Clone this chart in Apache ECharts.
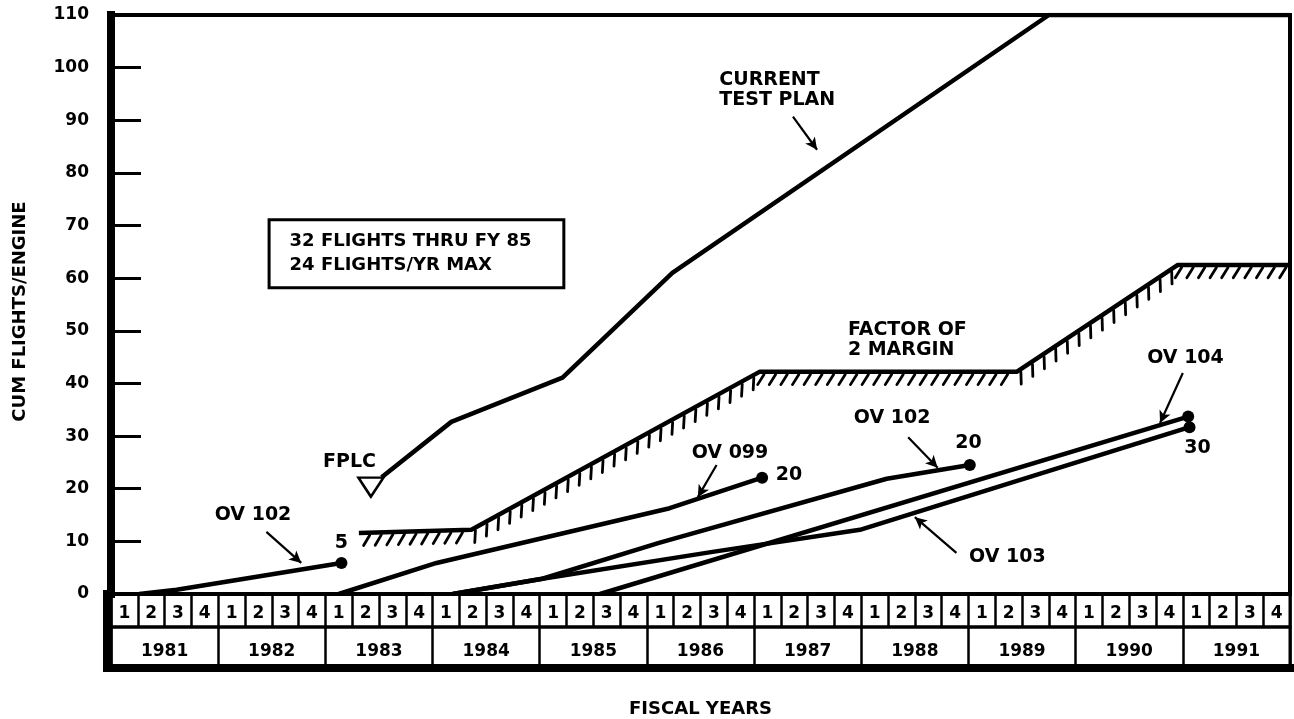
<!DOCTYPE html>
<html>
<head>
<meta charset="utf-8">
<title>Cum flights per engine</title>
<script src="https://cdn.jsdelivr.net/npm/echarts@6/dist/echarts.min.js"></script>
<style>
  html, body { margin: 0; padding: 0; background: #fff; }
  #chart { width: 1294px; height: 719px; }
</style>
</head>
<body>
<div id="chart"></div>
<script>
// x is measured in fiscal quarters from the start of FY 1981 (0 .. 44)
const years = ['1981', '1982', '1983', '1984', '1985', '1986', '1987', '1988', '1989', '1990', '1991']
const quarters = ['1', '2', '3', '4']
const yTicks = [0, 10, 20, 30, 40, 50, 60, 70, 80, 90, 100, 110]

const testPlan = [[10.1, 22.2], [12.7, 32.7], [16.85, 41.1], [20.95, 61.0], [35.0, 110], [44, 110]]
const margin2x = [[9.25, 11.6], [13.45, 12.2], [24.2, 42.2], [33.8, 42.2], [39.8, 62.5], [44, 62.5]]
const ov102a = [[1.05, 0], [2.45, 0.8], [8.6, 5.9]]
const ov099 = [[8.5, 0], [12.15, 5.9], [20.85, 16.3], [24.3, 22.1]]
const ov102b = [[12.75, 0], [16.1, 2.9], [20.45, 9.7], [28.95, 21.9], [32.05, 24.5]]
const ov103 = [[12.75, 0], [16.1, 2.9], [22.45, 8.0], [27.95, 12.2], [40.25, 31.7]]
const ov104 = [[18.25, 0], [40.2, 33.7]]
const fplc = [9.7, 20.3]

// annotation text: [x, y, text, align]
const notes = [
  [22.7, 95.8, 'CURRENT\nTEST PLAN', 'left'],
  [8.9, 25.1, 'FPLC', 'center'],
  [5.3, 15.0, 'OV 102', 'center'],
  [8.6, 9.7, '5', 'center'],
  [23.1, 26.8, 'OV 099', 'center'],
  [25.3, 22.6, '20', 'center'],
  [27.5, 48.3, 'FACTOR OF\n2 MARGIN', 'left'],
  [29.15, 33.5, 'OV 102', 'center'],
  [32.0, 28.7, '20', 'center'],
  [40.1, 44.9, 'OV 104', 'center'],
  [40.55, 27.8, '30', 'center'],
  [33.45, 7.0, 'OV 103', 'center']
]
// leader arrows: [x1, y1, x2, y2]
const arrows = [
  [25.45, 90.7, 26.35, 84.4],
  [5.8, 11.8, 7.1, 5.9],
  [22.6, 24.5, 21.9, 18.4],
  [29.75, 29.8, 30.85, 24.0],
  [40.0, 42.0, 39.15, 32.5],
  [31.55, 7.8, 30.0, 14.6]
]
const noteBox = [[5.9, 71.1], [16.9, 58.2]]
const noteBoxText = '32 FLIGHTS THRU FY 85\n24 FLIGHTS/YR MAX'

const quarterLabels = []
years.forEach(() => quarters.forEach(q => quarterLabels.push(q)))

const FONT = 'DejaVu Sans'
const INK = '#000'
const lineStyle = { color: INK, width: 4.5 }

function lineSeries(name, data) {
  return {
    name, type: 'line', xAxisIndex: 0, yAxisIndex: 0,
    data, symbol: 'none', lineStyle, z: 3
  }
}

// segments of the margin line, for the hatch marks
const marginSegs = []
for (let i = 0; i < margin2x.length - 1; i++) {
  marginSegs.push([margin2x[i][0], margin2x[i][1], margin2x[i + 1][0], margin2x[i + 1][1]])
}

function renderHatch(params, api) {
  const p0 = api.coord([api.value(0), api.value(1)])
  const p1 = api.coord([api.value(2), api.value(3)])
  const step = 11.6
  const dx = p1[0] - p0[0]
  const dy = p1[1] - p0[1]
  const len = Math.sqrt(dx * dx + dy * dy)
  const ux = dx / len, uy = dy / len
  // normal pointing down, turned ~32 deg backwards
  const nx = -uy, ny = ux
  const hx = 0.85 * nx - 0.53 * ux
  const hy = 0.85 * ny - 0.53 * uy
  const children = []
  let x = Math.ceil((p0[0] + 3) / step) * step
  for (; x < p1[0] - 1; x += step) {
    const y = p0[1] + dy * (x - p0[0]) / dx
    children.push({
      type: 'line',
      shape: { x1: x + hx * 3, y1: y + hy * 3, x2: x + hx * 15, y2: y + hy * 15 },
      style: { stroke: INK, lineWidth: 2.8, lineCap: 'round' }
    })
  }
  return { type: 'group', children }
}

const ends = [ov102a, ov099, ov102b, ov103, ov104].map(s => s[s.length - 1])

const chart = echarts.init(document.getElementById('chart'), null, { renderer: 'canvas' })

const noteFont = { fontSize: 19, lineHeight: 20, fontFamily: FONT, fontWeight: 'bold', color: INK }

chart.setOption({
  animation: false,
  backgroundColor: '#fff',
  textStyle: { fontFamily: FONT, fontWeight: 'bold', color: INK },
  grid: [
    { left: 111, right: 4, top: 15, height: 579, show: true, borderColor: INK, borderWidth: 4, backgroundColor: 'transparent' },
    { left: 111, right: 4, top: 594, height: 33, show: true, borderColor: INK, borderWidth: 3 },
    { left: 111, right: 4, top: 627, height: 42, show: true, borderColor: INK, borderWidth: 3 }
  ],
  xAxis: [
    { gridIndex: 0, type: 'value', min: 0, max: 44, show: false },
    {
      gridIndex: 1, type: 'category', data: quarterLabels, boundaryGap: true,
      axisLine: { show: false }, axisTick: { show: false },
      splitLine: { show: true, lineStyle: { color: INK, width: 2.5 } },
      axisLabel: { inside: true, interval: 0, margin: 13, verticalAlign: 'middle', fontSize: 17, fontFamily: FONT, fontWeight: 'bold', color: INK }
    },
    {
      gridIndex: 2, type: 'category', data: years, boundaryGap: true,
      axisLine: { show: true, lineStyle: { color: INK, width: 8, cap: 'square' } },
      axisTick: { show: false },
      splitLine: { show: true, lineStyle: { color: INK, width: 2.5 } },
      axisLabel: { inside: true, interval: 0, margin: 16, verticalAlign: 'middle', fontSize: 17, fontFamily: FONT, fontWeight: 'bold', color: INK },
      name: 'FISCAL YEARS', nameLocation: 'middle', nameGap: 32,
      nameTextStyle: { fontSize: 18, fontFamily: FONT, fontWeight: 'bold', color: INK }
    }
  ],
  yAxis: [
    {
      gridIndex: 0, type: 'value', min: 0, max: 110, interval: 10, offset: 4,
      axisLine: { show: true, lineStyle: { color: INK, width: 8, cap: 'square' } },
      axisTick: { show: true, inside: true, length: 30, lineStyle: { color: INK, width: 3 } },
      splitLine: { show: false },
      axisLabel: { margin: 18, fontSize: 17, fontFamily: FONT, fontWeight: 'bold', color: INK,
        formatter: v => yTicks.includes(v) ? String(v) : '' },
      name: 'CUM FLIGHTS/ENGINE', nameLocation: 'middle', nameGap: 78, nameRotate: 90,
      nameTextStyle: { fontSize: 18, fontFamily: FONT, fontWeight: 'bold', color: INK, padding: [0, 14, 0, 0] }
    },
    {
      gridIndex: 1, type: 'value', offset: 4,
      axisLine: { show: true, lineStyle: { color: INK, width: 8, cap: 'square' } },
      axisTick: { show: false }, axisLabel: { show: false }, splitLine: { show: false }
    },
    {
      gridIndex: 2, type: 'value', offset: 4,
      axisLine: { show: true, lineStyle: { color: INK, width: 8, cap: 'square' } },
      axisTick: { show: false }, axisLabel: { show: false }, splitLine: { show: false }
    }
  ],
  series: [
    lineSeries('CURRENT TEST PLAN', testPlan),
    lineSeries('FACTOR OF 2 MARGIN', margin2x),
    {
      name: 'margin hatch', type: 'custom', xAxisIndex: 0, yAxisIndex: 0,
      data: marginSegs, renderItem: renderHatch, clip: true, z: 2
    },
    lineSeries('OV 102 (early)', ov102a),
    lineSeries('OV 099', ov099),
    lineSeries('OV 102', ov102b),
    lineSeries('OV 103', ov103),
    lineSeries('OV 104', ov104),
    {
      name: 'ends', type: 'scatter', xAxisIndex: 0, yAxisIndex: 0,
      data: ends, symbol: 'circle', symbolSize: 12, itemStyle: { color: INK, opacity: 1 }, z: 4
    },
    {
      name: 'FPLC', type: 'scatter', xAxisIndex: 0, yAxisIndex: 0,
      data: [fplc], symbol: 'triangle', symbolRotate: 180, symbolSize: [25, 19],
      itemStyle: { color: '#fff', borderColor: INK, borderWidth: 2.5, opacity: 1 }, z: 4
    },
    {
      name: 'notes', type: 'scatter', xAxisIndex: 0, yAxisIndex: 0,
      symbolSize: 1, itemStyle: { color: 'rgba(0,0,0,0)', opacity: 1 }, z: 5, silent: true,
      data: notes.map(n => ({
        value: [n[0], n[1]],
        label: Object.assign({
          show: true, position: 'inside', formatter: n[2], align: n[3], verticalAlign: 'middle',
          textBorderWidth: 0
        }, noteFont)
      })),
      markLine: {
        silent: true, symbol: ['none', 'arrow'], symbolSize: [9, 12],
        lineStyle: { color: INK, width: 2.2, type: 'solid', opacity: 1 },
        label: { show: false },
        data: arrows.map(a => [{ coord: [a[0], a[1]] }, { coord: [a[2], a[3]] }])
      },
      markArea: {
        silent: true,
        itemStyle: { color: '#fff', borderColor: INK, borderWidth: 3, opacity: 1 },
        label: {
          show: true, position: 'insideLeft', distance: 22, formatter: noteBoxText,
          fontSize: 18, lineHeight: 24, fontFamily: FONT, fontWeight: 'bold', color: INK, align: 'left'
        },
        data: [[{ coord: noteBox[0] }, { coord: noteBox[1] }]]
      }
    }
  ]
})
</script>
</body>
</html>
